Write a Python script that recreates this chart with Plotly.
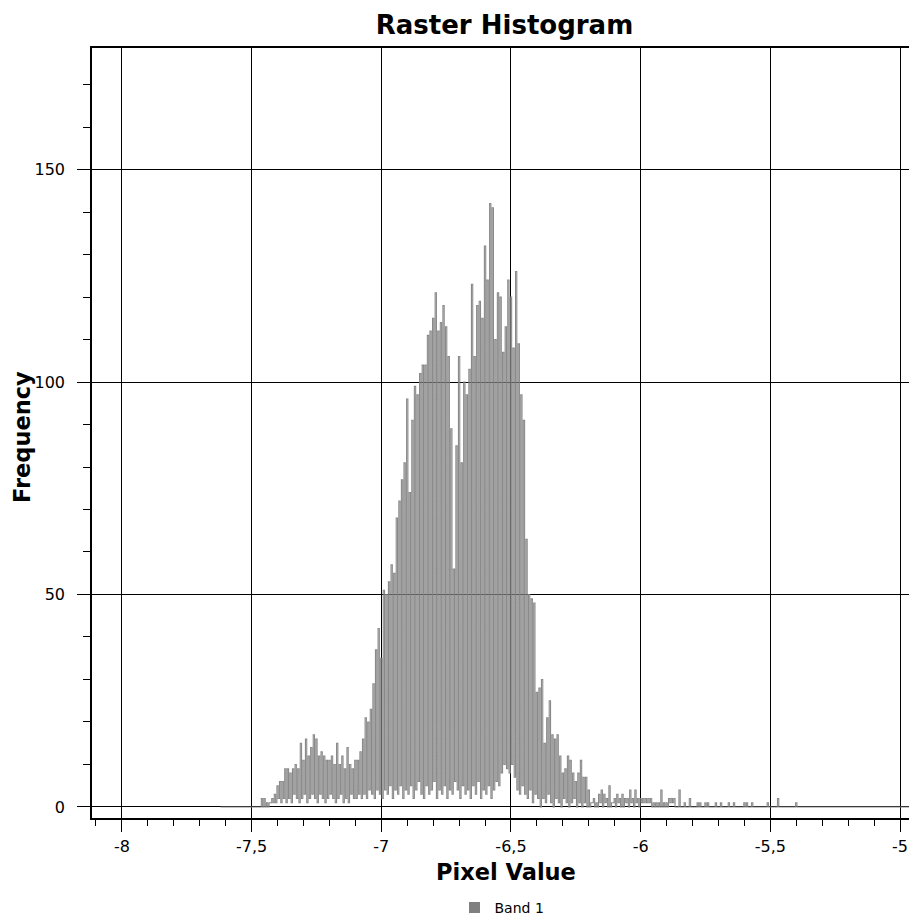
import numpy as np
import plotly.graph_objects as go

# Histogram bins: first bin centre and bin width (pixel value units)
bin_start = -7.62
bin_width = 0.005

# Frequencies of the even bins (-7.620, -7.610, ... , -4.940)
freq_high = [
    0, 0, 0, 0, 0, 0, 0, 0, 0, 0, 0, 0, 0, 0, 0, 0,          # -7.62 .. -7.47
    2, 2, 1, 1, 2, 3, 5, 6, 6, 9, 9, 8, 9, 10, 9,            # -7.46 .. -7.32
    15, 11, 16, 12, 14, 17, 16, 12, 13, 12, 11, 11, 12, 10,  # -7.31 .. -7.18
    15, 10, 12, 9, 14, 10, 9, 11, 11, 13, 16, 21, 20, 23,    # -7.17 .. -7.04
    29, 37, 42, 35, 51, 50, 53, 57, 55, 68, 72, 77, 81, 96,  # -7.03 .. -6.90
    74, 91, 99, 97, 102, 104, 104, 111, 112, 115, 121, 112,  # -6.89 .. -6.78
    114, 118, 113, 106, 89, 56, 85, 106, 81, 100, 97, 103,   # -6.77 .. -6.66
    123, 106, 118, 119, 115, 132, 124, 142, 141, 110, 121,   # -6.65 .. -6.55
    120, 107, 113, 124, 120, 108, 126, 109, 97, 91, 63, 50,  # -6.54 .. -6.43
    49, 48, 27, 28, 30, 15, 21, 25, 17, 16, 17, 12, 8, 9,    # -6.42 .. -6.29
    12, 11, 8, 6, 8, 11, 7, 7, 4, 1, 2, 1, 3, 4, 3, 2, 5,    # -6.28 .. -6.12
    1, 2, 3, 2, 3, 2, 2, 4, 2, 4, 2, 2, 2, 2, 2, 2, 1, 1,    # -6.11 .. -5.94
    1, 4, 1, 1, 2, 2, 2, 0, 4, 0, 1, 0, 2, 0, 0, 1, 1, 0,    # -5.93 .. -5.76
    1, 1, 0, 0, 1, 0, 1, 0, 0, 1, 0, 1, 0, 0, 0, 1, 1, 0,    # -5.75 .. -5.58
    1, 0, 0, 0, 0, 0, 1, 0, 0, 0, 2, 0, 0, 0, 0, 0, 0, 1,    # -5.57 .. -5.40
    0, 0, 0, 0, 0, 0, 0, 0, 0, 0, 0, 0, 0, 0, 0, 0, 0, 0,    # -5.39 .. -5.22
    0, 0, 0, 0, 0, 0, 0, 0, 0, 0, 0, 0, 0, 0, 0, 0, 0, 0,    # -5.21 .. -5.04
    0, 0, 0, 0, 0, 0, 0, 0, 0, 0,                            # -5.03 .. -4.94
]

# Frequencies of the odd bins (-7.615, -7.605, ... , -4.945)
freq_low = [
    0, 0, 0, 0, 0, 0, 0, 0, 0, 0, 0, 0, 0, 0, 0, 0,          # -7.615 .. -7.465
    0, 0, 0, 1, 1, 1, 2, 1, 2, 1, 2, 1, 3, 2, 1,             # -7.455 .. -7.315
    2, 3, 1, 2, 3, 2, 1, 3, 2, 1, 2, 3, 2, 1,                # -7.305 .. -7.175
    2, 3, 1, 2, 1, 3, 2, 2, 3, 2, 3, 2, 4, 3,                # -7.165 .. -7.035
    2, 4, 3, 2, 4, 3, 5, 2, 4, 3, 5, 2, 4, 3,                # -7.025 .. -6.895
    5, 2, 4, 6, 3, 2, 5, 3, 4, 6, 2, 4,                      # -6.885 .. -6.775
    3, 5, 2, 4, 3, 6, 4, 2, 5, 3, 4, 2,                      # -6.765 .. -6.655
    5, 3, 6, 2, 4, 3, 5, 2, 4, 6, 5,                         # -6.645 .. -6.545
    8, 10, 9, 8, 10, 7, 4, 3, 5, 3, 2, 4,                    # -6.535 .. -6.425
    1, 3, 2, 0, 2, 1, 3, 1, 0, 2, 1, 0, 2, 1,                # -6.415 .. -6.285
    0, 1, 2, 0, 1, 0, 1, 0, 0, 1, 0, 0, 1, 0, 1, 0, 0,       # -6.275 .. -6.115
    1, 0, 1, 0, 0, 1, 0, 1, 0, 1, 0, 1, 1, 1, 1, 0, 0, 0,    # -6.105 .. -5.935
    0, 0, 0, 0, 1, 1, 0, 0, 0, 0, 0, 0, 0, 0, 0, 0, 0, 0,    # -5.925 .. -5.755
    0, 0, 0, 0, 0, 0, 0, 0, 0, 0, 0, 0, 0, 0, 0, 0, 0, 0,    # -5.745 .. -5.575
    0, 0, 0, 0, 0, 0, 0, 0, 0, 0, 0, 0, 0, 0, 0, 0, 0, 0,    # -5.565 .. -5.395
    0, 0, 0, 0, 0, 0, 0, 0, 0, 0, 0, 0, 0, 0, 0, 0, 0, 0,    # -5.385 .. -5.215
    0, 0, 0, 0, 0, 0, 0, 0, 0, 0, 0, 0, 0, 0, 0, 0, 0, 0,    # -5.205 .. -5.035
    0, 0, 0, 0, 0, 0, 0, 0, 0,                               # -5.025 .. -4.945
]

x_tickvals = [-8, -7.5, -7, -6.5, -6, -5.5, -5]
x_ticktext = ["-8", "-7,5", "-7", "-6,5", "-6", "-5,5", "-5"]
y_tickvals = [0, 50, 100, 150]
y_ticktext = ["0", "50", "100", "150"]

# interleave the two bin sets into one ordered histogram
freq = []
for i, h in enumerate(freq_high):
    freq.append(h)
    if i < len(freq_low):
        freq.append(freq_low[i])
freq = np.array(freq, dtype=float)
pixel = bin_start + bin_width * np.arange(len(freq))

FONT = "DejaVu Sans"
# the page body has an 8px margin, so the figure is sized/placed for that
OFF = 8
W, H = 917 - OFF, 919 - OFF
L, T = 92 - OFF, 48 - OFF
R = 0
B = H - (818 - OFF)

fig = go.Figure()
fig.add_trace(go.Scatter(
    x=pixel, y=freq, mode="lines", line_shape="hvh",
    line=dict(color="rgba(128,128,128,0.92)", width=1.1),
    showlegend=False, hoverinfo="skip",
))
# legend swatch
fig.add_trace(go.Scatter(
    x=[None], y=[None], mode="markers", name="Band 1",
    marker=dict(symbol="square", size=11, color="#808080"),
))

plot_w = W - L - R
plot_h = H - T - B

fig.update_layout(
    width=W, height=H,
    margin=dict(l=L, r=R, t=T, b=B, autoexpand=False),
    paper_bgcolor="white", plot_bgcolor="white",
    title=dict(text="<b>Raster Histogram</b>", x=0.5, xref="paper",
               y=1 - (25 - OFF) / H, yref="container", yanchor="middle",
               font=dict(family=FONT, size=26, color="black")),
    showlegend=True,
    legend=dict(orientation="h", x=(502 - OFF - L) / plot_w, xanchor="center",
                xref="paper",
                y=1 - (908 - OFF) / H, yref="container", yanchor="middle",
                font=dict(family=FONT, size=14, color="black"),
                itemwidth=30, bgcolor="rgba(0,0,0,0)"),
    font=dict(family=FONT, color="black"),
)

fig.update_xaxes(
    range=[-8.1154, -4.9346], automargin=False,
    tickmode="array", tickvals=x_tickvals, ticktext=x_ticktext,
    ticks="outside", ticklen=12, tickwidth=1, tickcolor="black",
    ticklabelstandoff=1,
    tickfont=dict(family=FONT, size=16, color="black"),
    showgrid=True, gridcolor="black", gridwidth=1,
    showline=True, linecolor="black", linewidth=1.5, mirror=True,
    zeroline=False,
    minor=dict(tickmode="linear", tick0=-8, dtick=0.1, ticks="outside",
               ticklen=6, tickcolor="black", tickwidth=1, showgrid=False),
)
fig.update_yaxes(
    range=[-2.6, 178.6], automargin=False,
    tickmode="array", tickvals=y_tickvals, ticktext=y_ticktext,
    ticks="outside", ticklen=13, tickwidth=1, tickcolor="black",
    ticklabelstandoff=9,
    tickfont=dict(family=FONT, size=16, color="black"),
    showgrid=True, gridcolor="black", gridwidth=1,
    showline=True, linecolor="black", linewidth=1.5, mirror=False,
    zeroline=False,
    minor=dict(tickmode="linear", tick0=0, dtick=10, ticks="outside",
               ticklen=7, tickcolor="black", tickwidth=1, showgrid=False),
)

fig.add_annotation(text="<b>Pixel Value</b>", xref="paper", yref="paper",
                   x=(506 - OFF - L) / plot_w,
                   y=-((872 - OFF) - (H - B)) / plot_h,
                   showarrow=False, xanchor="center", yanchor="middle",
                   font=dict(family=FONT, size=22.5, color="black"))
fig.add_annotation(text="<b>Frequency</b>", xref="paper", yref="paper",
                   x=((22 - OFF) - L) / plot_w,
                   y=((H - B) - (437 - OFF)) / plot_h,
                   textangle=-90, showarrow=False,
                   xanchor="center", yanchor="middle",
                   font=dict(family=FONT, size=22.5, color="black"))

fig.write_html("out.html")
